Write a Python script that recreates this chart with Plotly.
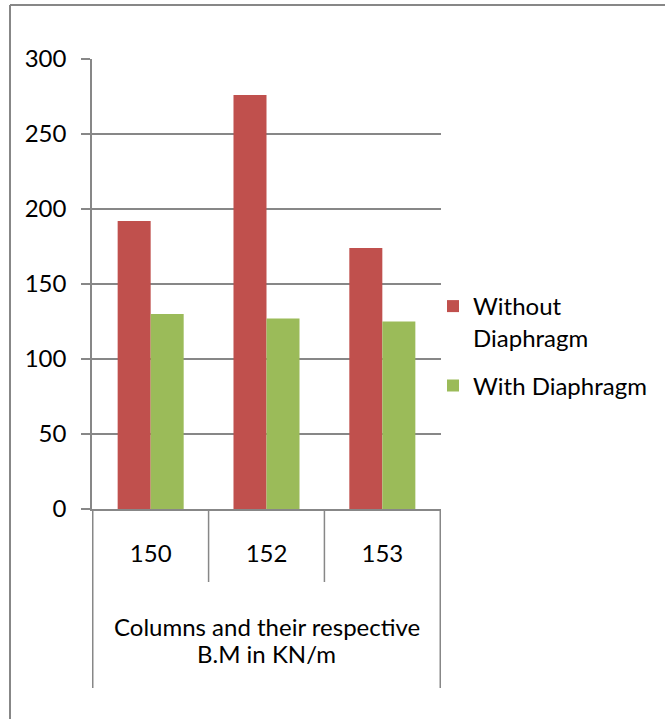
import plotly.graph_objects as go

# Bending moment per column, with and without diaphragm
columns = ["150", "152", "153"]
without_diaphragm = [192, 276, 174]
with_diaphragm = [130, 127, 125]
series_names = ["Without<br>Diaphragm", "With Diaphragm"]
series_colors = ["#C0504D", "#9BBB59"]
group_label_lines = ["Columns and their respective", "B.M in KN/m"]
y_ticks = [0, 50, 100, 150, 200, 250, 300]

W, H = 665, 719
ML, MR, MT, MB = 92, 224, 59, 210
PW, PH = W - ML - MR, H - MT - MB
LINE = "#878787"
FONT = "Lato"
NUM_SIZE = 24
TEXT_SIZE = 24

fig = go.Figure()
for i, (name, vals, col) in enumerate(zip(series_names, [without_diaphragm, with_diaphragm], series_colors)):
    fig.add_trace(go.Bar(x=columns, y=vals, name=name, legendgroup=f"s{i}",
                         marker=dict(color=col, line=dict(width=0))))


def px_x(px):
    return (px - ML) / PW


def px_y(py):
    return (H - MB - py) / PH


shapes = []
# category dividers below the axis
for i in range(len(columns) + 1):
    edge = i in (0, len(columns))
    shapes.append(dict(type="line", xref="x", yref="paper", x0=i - 0.5, x1=i - 0.5,
                       y0=0, y1=px_y(688 if edge else 582), line=dict(color=LINE, width=1.5)))
# outer chart border (top and left edges)
shapes.append(dict(type="line", xref="paper", yref="paper", x0=px_x(10), x1=px_x(W + 5),
                   y0=px_y(5), y1=px_y(5), line=dict(color=LINE, width=2)))
shapes.append(dict(type="line", xref="paper", yref="paper", x0=px_x(10), x1=px_x(10),
                   y0=px_y(5), y1=px_y(H + 5), line=dict(color=LINE, width=2)))

annotations = [
    dict(text=line, xref="paper", yref="paper", x=0.5, y=px_y(cy),
         xanchor="center", yanchor="middle", showarrow=False,
         font=dict(family=FONT, size=TEXT_SIZE))
    for line, cy in zip(group_label_lines, [626, 653])
]

fig.update_layout(
    width=W, height=H,
    margin=dict(l=ML, r=MR, t=MT, b=MB),
    paper_bgcolor="white", plot_bgcolor="white",
    font=dict(family=FONT, size=TEXT_SIZE, color="#000000"),
    barmode="group", bargap=0.43, bargroupgap=0,
    showlegend=True,
    legend=dict(x=px_x(433), y=px_y(284), xanchor="left", yanchor="top", valign="top",
                font=dict(family=FONT, size=TEXT_SIZE), itemwidth=30, tracegroupgap=14,
                bgcolor="rgba(0,0,0,0)"),
    xaxis=dict(type="category", showgrid=False, showline=True, linecolor=LINE, linewidth=1.5,
               ticks="", ticklabelstandoff=22, tickfont=dict(family=FONT, size=NUM_SIZE),
               fixedrange=True),
    yaxis=dict(range=[0, 300], tickvals=y_ticks, showgrid=True, gridcolor=LINE, gridwidth=1.5,
               showline=True, linecolor=LINE, linewidth=1.5, ticks="outside", ticklen=9,
               tickcolor=LINE, tickwidth=1.5, zeroline=False, ticklabelstandoff=10,
               tickfont=dict(family=FONT, size=NUM_SIZE), fixedrange=True),
    shapes=shapes,
    annotations=annotations,
)

fig.write_html("out.html")
